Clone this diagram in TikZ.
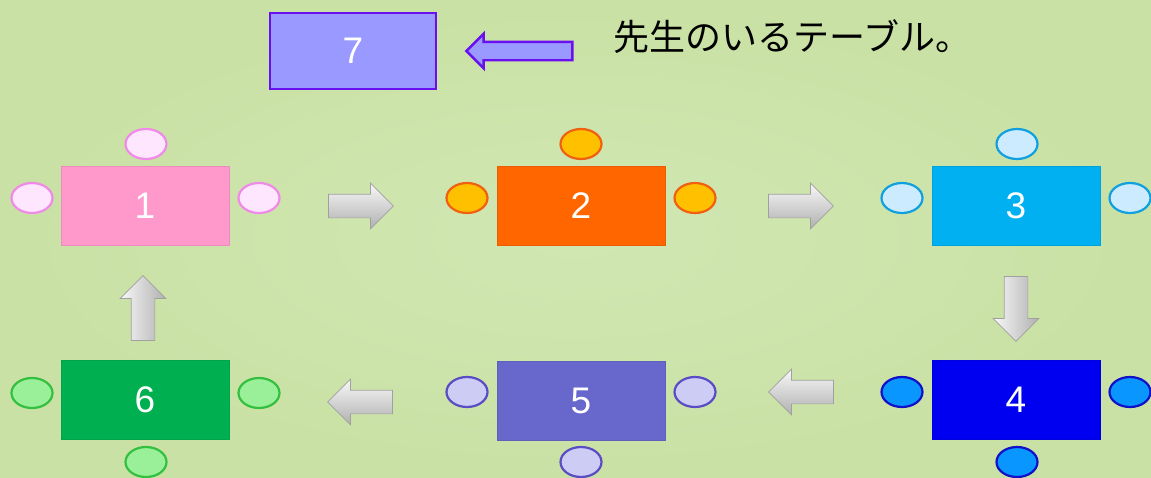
\documentclass[tikz,border=0pt]{standalone}
\usepackage{fontspec}
\setmainfont{Liberation Sans}
\newfontfamily\cjk{Noto Sans CJK JP}
\usetikzlibrary{shapes.geometric,shapes.arrows}
\definecolor{bg}{HTML}{C9E1A4}
\definecolor{bgl}{HTML}{D1E7B3}
\definecolor{t1}{HTML}{FF99CC}\definecolor{c1}{HTML}{FFE6FF}\definecolor{b1}{HTML}{F08AE8}
\definecolor{t2}{HTML}{FF6600}\definecolor{c2}{HTML}{FFC000}\definecolor{b2}{HTML}{F06010}
\definecolor{t3}{HTML}{00B0F0}\definecolor{c3}{HTML}{CCEBFF}\definecolor{b3}{HTML}{10A0E0}
\definecolor{t4}{HTML}{0000F0}\definecolor{c4}{HTML}{0A96FF}\definecolor{b4}{HTML}{1010C8}
\definecolor{t5}{HTML}{6868CC}\definecolor{c5}{HTML}{CCCCF4}\definecolor{b5}{HTML}{5A4CC4}
\definecolor{t6}{HTML}{00B050}\definecolor{c6}{HTML}{99F099}\definecolor{b6}{HTML}{33C040}
\definecolor{t7}{HTML}{9999FF}\definecolor{b7}{HTML}{6A10F0}
\definecolor{ga}{HTML}{F8F8F8}\definecolor{gb}{HTML}{B0B0B0}\definecolor{gd}{HTML}{A0A0A0}
\tikzset{
  tbl/.style={rectangle, minimum width=168pt, minimum height=79pt, inner sep=0pt,
    text=white, font=\fontsize{37}{40}\selectfont, fill=#1, draw=#1!92!black, line width=0.6pt},
  chair/.style 2 args={ellipse, minimum width=41pt, minimum height=30pt, inner sep=0pt,
    fill=#1, draw=#2, line width=2.2pt},
  garrow/.style={single arrow, single arrow head extend=11pt, inner sep=11.5pt,
    minimum height=65pt, draw=gd, line width=0.7pt},
  hshade/.style={top color=ga, bottom color=gb},
  vshade/.style={left color=ga, right color=gb},
}
\begin{document}
\begin{tikzpicture}[x=1pt,y=-1pt]
\shade[inner color=bgl, outer color=bg] (0,0) rectangle (1151,477);
\useasboundingbox (0,0) rectangle (1151,477);

% tables
\node[tbl=t1] (t1) at (145,206) {1};
\node[tbl=t2] (t2) at (581,206) {2};
\node[tbl=t3] (t3) at (1016,206) {3};
\node[tbl=t4] (t4) at (1016,400) {4};
\node[tbl=t5] (t5) at (581,401) {5};
\node[tbl=t6] (t6) at (145,400) {6};
\node[rectangle, minimum width=166pt, minimum height=76pt, inner sep=0pt, text=white,
  font=\fontsize{37}{40}\selectfont, fill=t7, draw=b7, line width=2.4pt] (t7) at (353,51) {7};

% chairs
\node[chair={c1}{b1}] (c1t) at (146,144) {};
\node[chair={c1}{b1}] (c1l) at (32,198) {};
\node[chair={c1}{b1}] (c1r) at (259,198) {};
\node[chair={c2}{b2}] (c2t) at (581,144) {};
\node[chair={c2}{b2}] (c2l) at (467,198) {};
\node[chair={c2}{b2}] (c2r) at (695,198) {};
\node[chair={c3}{b3}] (c3t) at (1017,144) {};
\node[chair={c3}{b3}] (c3l) at (902,198) {};
\node[chair={c3}{b3}] (c3r) at (1130,198) {};
\node[chair={c4}{b4}] (c4l) at (902,392) {};
\node[chair={c4}{b4}] (c4r) at (1130,392) {};
\node[chair={c4}{b4}] (c4b) at (1017,462) {};
\node[chair={c5}{b5}] (c5l) at (467,392) {};
\node[chair={c5}{b5}] (c5r) at (695,392) {};
\node[chair={c5}{b5}] (c5b) at (581,462) {};
\node[chair={c6}{b6}] (c6l) at (32,393) {};
\node[chair={c6}{b6}] (c6r) at (259,393) {};
\node[chair={c6}{b6}] (c6b) at (146,462) {};

% gray arrows
\node[garrow, hshade] (a12) at (355,206) {};
\node[garrow, hshade] (a23) at (795,206) {};
\node[garrow, vshade, shape border rotate=270] (a34) at (1016,303) {};
\node[garrow, hshade, shape border rotate=180] (a45) at (807,392) {};
\node[garrow, hshade, shape border rotate=180] (a56) at (366,402) {};
\node[garrow, vshade, shape border rotate=90] (a61) at (143,314) {};

% purple arrow and caption
\node[single arrow, shape border rotate=180, single arrow head extend=8pt,
  inner sep=8pt, minimum height=106pt,
  fill=t7, draw=b7, line width=2.4pt] (a7) at (524,51) {};
\node[anchor=base west, inner sep=0pt, font=\cjk\fontsize{36}{40}\selectfont] (cap) at (613,50) {先生のいるテーブル。};
\end{tikzpicture}
\end{document}
